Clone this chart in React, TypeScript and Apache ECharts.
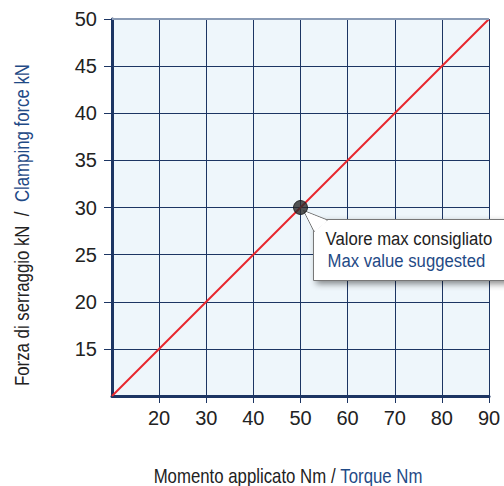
import React, { useEffect, useRef } from "react";
import * as echarts from "echarts";

const torqueNm = [10, 90];
const forceKN = [10, 50];
const maxPoint = [50, 30];
const calloutLines = ["Valore max consigliato", "Max value suggested"];
const xTitleIt = "Momento applicato Nm / ";
const xTitleEn = "Torque Nm";
const yTitleIt = "Forza di serraggio kN  /  ";
const yTitleEn = "Clamping force kN";

const FONT = "'Liberation Sans', Arial, sans-serif";
const NAVY = "#1c3563";
const BLUE = "#1f4a86";

export default function App() {
  const ref = useRef<HTMLDivElement>(null);
  useEffect(() => {
    if (!ref.current) return;
    const chart = echarts.init(ref.current, undefined, { renderer: "svg" });
    const lineData = torqueNm.map((x, i) => [x, forceKN[i]]);
    chart.setOption({
      animation: false,
      backgroundColor: "#ffffff",
      textStyle: { fontFamily: FONT },
      grid: { left: 112, top: 19, right: 15, bottom: 90, show: true, backgroundColor: "#eef6fb", borderWidth: 0 },
      xAxis: {
        type: "value",
        min: 10,
        max: 90,
        interval: 10,
        axisLine: { show: true, lineStyle: { color: NAVY, width: 3 } },
        axisTick: { show: true, length: 7, lineStyle: { color: NAVY, width: 1 } },
        axisLabel: { showMinLabel: false, color: "#222", fontSize: 20, fontFamily: FONT, margin: 12 },
        splitLine: { show: true, lineStyle: { color: NAVY, width: 1 } },
      },
      yAxis: {
        type: "value",
        min: 10,
        max: 50,
        interval: 5,
        axisLine: { show: true, lineStyle: { color: NAVY, width: 3 } },
        axisTick: { show: true, length: 8, lineStyle: { color: NAVY, width: 1 } },
        axisLabel: { showMinLabel: false, color: "#222", fontSize: 20, fontFamily: FONT, margin: 15 },
        splitLine: { show: true, lineStyle: { color: NAVY, width: 1 } },
      },
      series: [
        {
          type: "line",
          data: lineData,
          showSymbol: false,
          lineStyle: { color: "#e8262d", width: 2 },
          z: 3,
        },
        {
          type: "scatter",
          data: [maxPoint],
          symbolSize: 14,
          itemStyle: { color: "#2b2b2b", borderColor: "#111", borderWidth: 1 },
          z: 5,
        },
      ],
    });
    const p = chart.convertToPixel({ gridIndex: 0 }, maxPoint) as number[];
    const top = chart.convertToPixel({ gridIndex: 0 }, [10, 50]) as number[];
    const bx = p[0] + 13;
    const by = p[1] + 12;
    chart.setOption({
      graphic: [
        {
          type: "line",
          shape: { x1: 112, y1: top[1], x2: top[0] + 377, y2: top[1] },
          style: { stroke: "#8a9bb5", lineWidth: 2 },
          z: 10,
        },
        {
          type: "group",
          z: 20,
          children: [
            {
              type: "rect",
              shape: { x: bx, y: by, width: 210, height: 61 },
              style: { fill: "#ffffff", stroke: "#777", lineWidth: 1, shadowBlur: 6, shadowOffsetX: 3, shadowOffsetY: 3, shadowColor: "rgba(0,0,0,0.45)" },
            },
            {
              type: "polygon",
              shape: { points: [[p[0] + 3, p[1] + 3], [bx + 14, by + 0.5], [bx + 0.5, by + 12]] },
              style: { fill: "#ffffff", stroke: "#777", lineWidth: 1 },
            },
            {
              type: "polygon",
              shape: { points: [[p[0] + 4, p[1] + 4], [bx + 14, by + 1.5], [bx + 1.5, by + 12]] },
              style: { fill: "#ffffff", lineWidth: 0 },
            },
            {
              type: "text",
              x: bx + 12,
              y: by + 19,
              scaleX: 0.88,
              style: { text: calloutLines[0], fill: "#222", font: `19px ${FONT}`, textVerticalAlign: "middle" },
            },
            {
              type: "text",
              x: bx + 14,
              y: by + 41,
              scaleX: 0.88,
              style: { text: calloutLines[1], fill: BLUE, font: `19px ${FONT}`, textVerticalAlign: "middle" },
            },
          ],
        },
        {
          type: "text",
          x: 288,
          y: 476,
          scaleX: 0.84,
          style: {
            text: `{a|${xTitleIt}}{b|${xTitleEn}}`,
            align: "center",
            verticalAlign: "middle",
            rich: {
              a: { fill: "#222", fontSize: 20, fontFamily: FONT },
              b: { fill: BLUE, fontSize: 20, fontFamily: FONT },
            },
          },
        },
        {
          type: "text",
          x: 22,
          y: 225,
          rotation: Math.PI / 2,
          scaleX: 0.84,
          style: {
            text: `{a|${yTitleIt}}{b|${yTitleEn}}`,
            align: "center",
            verticalAlign: "middle",
            rich: {
              a: { fill: "#222", fontSize: 20, fontFamily: FONT },
              b: { fill: BLUE, fontSize: 20, fontFamily: FONT },
            },
          },
        },
      ],
    });
    return () => chart.dispose();
  }, []);
  return <div ref={ref} style={{ width: 504, height: 486, position: "absolute", left: 0, top: 0 }} />;
}
